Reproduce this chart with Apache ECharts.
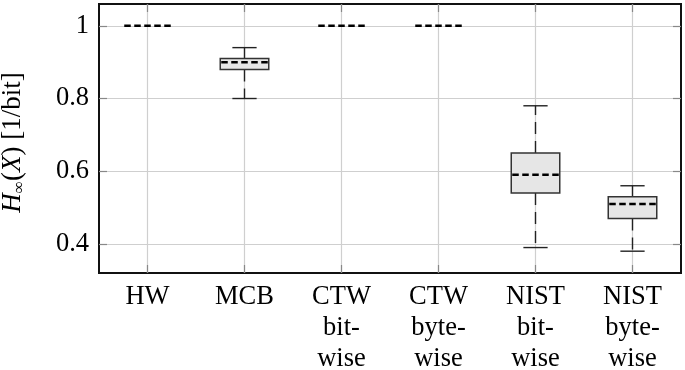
<!DOCTYPE html>
<html lang="en">
  <head>
    <meta charset="UTF-8" />
    <script src="https://cdn.jsdelivr.net/npm/echarts@6/dist/echarts.min.js"></script>
    <title>Min-entropy estimates</title>
    <style>
      html, body { margin: 0; padding: 0; background: #fff; }
    </style>
  </head>
  <body>
    <div id="app" style="width: 685px; height: 370px"></div>

    <script>
      // categories along the x axis (multi-line labels)
      const categories = [
        "HW",
        "MCB",
        "CTW\nbit-\nwise",
        "CTW\nbyte-\nwise",
        "NIST\nbit-\nwise",
        "NIST\nbyte-\nwise",
      ];
      // box plot statistics per category
      const whiskerLow = [1, 0.8, 1, 1, 0.39, 0.38];
      const lowerQuartile = [1, 0.88, 1, 1, 0.54, 0.47];
      const median = [1, 0.9, 1, 1, 0.59, 0.51];
      const upperQuartile = [1, 0.91, 1, 1, 0.65, 0.53];
      const whiskerHigh = [1, 0.94, 1, 1, 0.78, 0.56];
      const yTicks = [0.4, 0.6, 0.8, 1];

      const serif = "Liberation Serif";
      const chart = echarts.init(document.getElementById("app"));

      const data = categories.map((c, i) => [
        i,
        whiskerLow[i],
        lowerQuartile[i],
        median[i],
        upperQuartile[i],
        whiskerHigh[i],
      ]);

      const xIdx = categories.map((c, i) => i);

      function renderBox(params, api) {
        const i = api.value(0);
        const lo = api.value(1), q1 = api.value(2), md = api.value(3);
        const q3 = api.value(4), hi = api.value(5);
        const cx = api.coord([i, md])[0];
        const y = (v) => api.coord([i, v])[1];
        const bw = api.size([1, 0])[0] * 0.5;
        const cw = bw * 0.5;
        const whisk = { stroke: "#222", lineWidth: 1.4, lineDash: [12, 7] };
        const solid = { stroke: "#222", lineWidth: 1.4 };
        const kids = [];
        if (hi > q3) {
          kids.push({ type: "line", shape: { x1: cx, y1: y(q3), x2: cx, y2: y(hi) }, style: whisk });
          kids.push({ type: "line", shape: { x1: cx - cw / 2, y1: y(hi), x2: cx + cw / 2, y2: y(hi) }, style: solid });
        }
        if (q1 > lo) {
          kids.push({ type: "line", shape: { x1: cx, y1: y(q1), x2: cx, y2: y(lo) }, style: whisk });
          kids.push({ type: "line", shape: { x1: cx - cw / 2, y1: y(lo), x2: cx + cw / 2, y2: y(lo) }, style: solid });
        }
        if (q3 > q1) {
          kids.push({
            type: "rect",
            shape: { x: cx - bw / 2, y: y(q3), width: bw, height: y(q1) - y(q3) },
            style: { fill: "#e6e6e6", stroke: "#333", lineWidth: 1.5 },
          });
        }
        kids.push({
          type: "line",
          shape: { x1: cx - bw / 2 + 1, y1: y(md), x2: cx + bw / 2 - 1, y2: y(md) },
          style: { stroke: "#000", lineWidth: 2.5, lineDash: [6.5, 3.5] },
        });
        return { type: "group", children: kids };
      }

      const tickStyle = { show: true, inside: true, length: 8, lineStyle: { color: "#888", width: 1.2 } };
      const gridLine = { show: true, lineStyle: { color: "#cfcfcf", width: 1.2 } };

      chart.setOption({
        backgroundColor: "#fff",
        animation: false,
        grid: {
          left: 99,
          right: 4,
          top: 4,
          bottom: 97,
          show: true,
          borderColor: "#111",
          borderWidth: 2,
          outerBoundsMode: "none",
        },
        xAxis: [
          {
            type: "value",
            min: -0.5,
            max: 5.5,
            axisLine: { show: false, onZero: false },
            axisTick: Object.assign({ customValues: xIdx }, tickStyle),
            splitLine: gridLine,
            axisLabel: {
              customValues: xIdx,
              formatter: (v) => categories[v],
              fontFamily: serif,
              fontSize: 26.5,
              lineHeight: 31,
              color: "#000",
              margin: 9,
              verticalAlign: "top",
            },
          },
          {
            type: "value",
            position: "top",
            min: -0.5,
            max: 5.5,
            axisLine: { show: false, onZero: false },
            axisTick: Object.assign({ customValues: xIdx }, tickStyle),
            axisLabel: { show: false },
            splitLine: { show: false },
          },
        ],
        yAxis: [
          {
            type: "value",
            min: 0.32,
            max: 1.06,
            axisLine: { show: false, onZero: false },
            axisTick: Object.assign({ customValues: yTicks }, tickStyle),
            splitLine: gridLine,
            axisLabel: {
              customValues: yTicks,
              formatter: (v) => String(+v.toFixed(1)),
              fontFamily: serif,
              fontSize: 26.5,
              color: "#000",
              margin: 10,
            },
            name: "{i|H}{s|∞}{n|(}{i|X}{n|) [1/bit]}",
            nameLocation: "middle",
            nameRotate: 90,
            nameGap: 71,
            nameTextStyle: {
              padding: [0, 8, 0, 0],
              rich: {
                i: { fontFamily: serif, fontSize: 27, fontStyle: "italic", color: "#000", lineHeight: 30 },
                n: { fontFamily: serif, fontSize: 27, color: "#000", lineHeight: 30 },
                s: { fontFamily: serif, fontSize: 17, color: "#000", lineHeight: 30, verticalAlign: "bottom" },
              },
            },
          },
          {
            type: "value",
            position: "right",
            min: 0.32,
            max: 1.06,
            axisLine: { show: false, onZero: false },
            axisTick: Object.assign({ customValues: yTicks }, tickStyle),
            axisLabel: { show: false },
            splitLine: { show: false },
          },
        ],
        series: [
          {
            type: "custom",
            renderItem: renderBox,
            encode: { x: 0, y: [1, 2, 3, 4, 5] },
            data: data,
            z: 3,
          },
        ],
      });
    </script>
  </body>
</html>
